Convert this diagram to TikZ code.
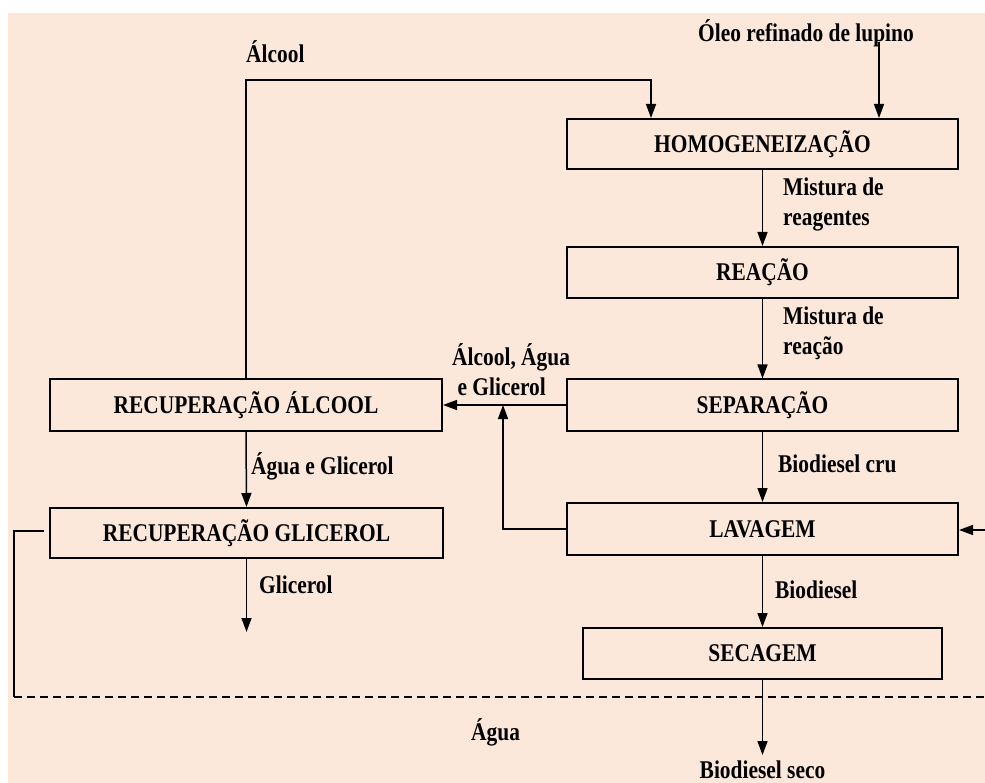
\documentclass[tikz,border=0pt]{standalone}
\usepackage{fontspec}
\setmainfont{Liberation Serif}[FakeStretch=0.84]
\usetikzlibrary{arrows.meta}
\definecolor{bgpeach}{HTML}{FCE8DA}
\begin{document}
\begin{tikzpicture}[x=1pt,y=-1pt,
  every node/.style={font=\fontsize{25.5}{30}\selectfont\bfseries},
  box/.style={draw, line width=2pt, inner sep=0pt, anchor=center},
  lbl/.style={inner sep=0pt, align=left, anchor=west},
  flow/.style={line width=1.5pt, -{Triangle[length=14pt,width=10pt]}},
  plain/.style={line width=1.5pt},
  waterline/.style={line width=1.5pt, dash pattern=on 8pt off 5pt},
]
\useasboundingbox (0,0) rectangle (985,783);
\fill[bgpeach] (8,13) rectangle (985,783);

% process boxes
\node[box, minimum width=391pt, minimum height=50pt] (homo) at (762.5,144) {HOMOGENEIZAÇÃO};
\node[box, minimum width=391pt, minimum height=51pt] (reac) at (762.5,272.5) {REAÇÃO};
\node[box, minimum width=391pt, minimum height=51pt] (sep) at (762.5,405) {SEPARAÇÃO};
\node[box, minimum width=391pt, minimum height=52pt] (lav) at (762.5,529) {LAVAGEM};
\node[box, minimum width=359pt, minimum height=51pt] (sec) at (762.5,653.5) {SECAGEM};
\node[box, minimum width=392pt, minimum height=52pt] (ra) at (246,405) {RECUPERAÇÃO ÁLCOOL};
\node[box, minimum width=393pt, minimum height=50pt] (rg) at (246.5,533) {RECUPERAÇÃO GLICEROL};

% free labels
\node[inner sep=0pt] (oleo) at (806,33) {Óleo refinado de lupino};
\node[lbl] (alcool) at (246,52) {Álcool};
\node[lbl] (mr1) at (783,204) {Mistura de\\reagentes};
\node[lbl] (mr2) at (783,333) {Mistura de\\reação};
\node[lbl] (aag) at (452,370) {Álcool, Água\\\ e Glicerol};
\node[lbl] (bcru) at (778,464) {Biodiesel cru};
\node[lbl] (aeg) at (251,466) {Água e Glicerol};
\node[lbl] (glic) at (259,585) {Glicerol};
\node[lbl] (bio) at (775,590) {Biodiesel};
\node[lbl] (agua) at (471,732) {Água};
\node[inner sep=0pt] (bseco) at (762.5,770) {Biodiesel seco};

% coordinates for free ends
\coordinate (o1) at (879,42);
\coordinate (alc) at (651,80);
\coordinate (j) at (503,405);
\coordinate (win) at (985,530);
\coordinate (gout) at (246.5,632);
\coordinate (bout) at (762.5,755);
\coordinate (w2) at (14,531);
\coordinate (w3) at (14,697);
\coordinate (w4) at (985,697);

% main chain
\draw[flow] (o1) -- (o1 |- homo.north);
\draw[flow] (ra.north) |- (alc) -- (alc |- homo.north);
\draw[flow] (homo.south) -- (reac.north);
\draw[flow] (reac.south) -- (sep.north);
\draw[flow] (sep.south) -- (lav.north);
\draw[flow] (lav.south) -- (sec.north);
\draw[flow] (sec.south) -- (bout);
\draw[flow] (sep.west) -- (ra.east);
\draw[flow] (lav.west) -| (j);
\draw[flow] (win) -- (lav.east |- win);
\draw[flow] (ra.south) -- (rg.north);
\draw[flow] (rg.south) -- (gout);

% water loop
\draw[plain] ([xshift=-5pt,yshift=2pt]rg.west) -- (w2) -- (w3);
\draw[waterline] (w3) -- (w4);
\end{tikzpicture}
\end{document}
